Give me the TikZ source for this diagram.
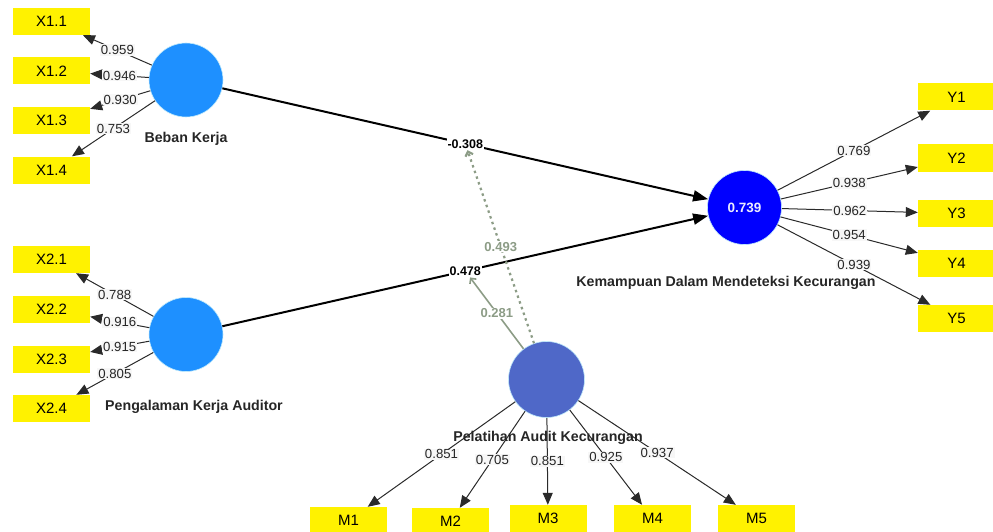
\documentclass[tikz,border=0pt]{standalone}
\usepackage{fontspec}
\setmainfont{Liberation Sans}
\usepackage{xcolor}
\usepackage{tikz}
\usetikzlibrary{positioning, arrows.meta}

\definecolor{lvblue}{HTML}{1E90FF}
\definecolor{dvblue}{HTML}{0000FF}
\definecolor{mvblue}{HTML}{4F68C8}
\definecolor{modgreen}{HTML}{8C9C86}
\definecolor{loadgray}{HTML}{2A2A2A}

\tikzset{
  latent/.style={circle, minimum size=74pt, inner sep=0pt, draw=cyan!25, line width=0.6pt},
  indicator/.style={fill=yellow, minimum width=77pt, minimum height=27pt, inner sep=0pt, font=\fontsize{15}{17}\selectfont},
  loading/.style={draw=loadgray, line width=1pt, -{Triangle[length=12pt,width=10pt]}},
  loadlabel/.style={fill=white!97!black, inner sep=1pt, text=black!85, font=\fontsize{13.2}{15}\selectfont},
  structpath/.style={draw=black, line width=2pt, -{Triangle[length=15pt,width=11pt]}},
  pathlabel/.style={fill=white, inner sep=1pt, font=\bfseries\fontsize{12.5}{14}\selectfont},
  modline/.style={draw=modgreen, line width=1.6pt, -{Straight Barb[length=4pt,width=8pt]}},
  modlabel/.style={fill=white, inner sep=1pt, text=modgreen, font=\bfseries\fontsize{13}{15}\selectfont},
  lvname/.style={text=black!85, font=\bfseries\fontsize{14.2}{17}\selectfont}
}

\begin{document}
\begin{tikzpicture}[x=1pt, y=-1pt]
\useasboundingbox (0,0) rectangle (993,532);

% latent variables
\node[latent, fill=lvblue] (bk) at (186,80) {};
\node[latent, fill=lvblue] (pka) at (186,334.5) {};
\node[latent, fill=dvblue, text=white!92!blue, font=\bfseries\fontsize{13.5}{15}\selectfont] (kdm) at (744.5,207.5) {0.739};
\node[latent, fill=mvblue, minimum size=76pt] (pak) at (546.5,379.5) {};

% indicators and loadings
\foreach \n/\y/\v in {1/21.5/0.959, 2/71/0.946, 3/120.5/0.930, 4/170/0.753} {
  \node[indicator] (xa\n) at (51.5,\y) {X1.\n};
  \draw[loading] (bk) -- node[loadlabel] {\v} (xa\n);
}
\foreach \n/\y/\v in {1/259.5/0.788, 2/309.5/0.916, 3/359/0.915, 4/408.5/0.805} {
  \node[indicator] (xb\n) at (51.5,\y) {X2.\n};
  \draw[loading] (pka) -- node[loadlabel] {\v} (xb\n);
}
\foreach \n/\y/\v in {1/97/0.769, 2/158/0.938, 3/213.5/0.962, 4/263/0.954, 5/318.5/0.939} {
  \node[indicator] (y\n) at (956.5,\y) {Y\n};
  \draw[loading] (kdm) -- node[loadlabel] {\v} (y\n);
}
\foreach \n/\x/\y/\v in {1/348.5/520.5/0.851, 2/450.5/521.5/0.705, 3/548/518.5/0.851, 4/652.5/518.5/0.925, 5/756.5/518.5/0.937} {
  \node[indicator] (m\n) at (\x,\y) {M\n};
  \draw[loading] (pak) -- node[loadlabel] {\v} (m\n);
}

% structural paths
\draw[structpath] (bk) -- node[pathlabel] (pbk) {-0.308} (kdm);
\draw[structpath] (pka) -- node[pathlabel] (ppka) {0.478} (kdm);

% moderating effects
\draw[modline, line width=2.2pt, dash pattern=on 2.5pt off 3.5pt] (pak) -- node[modlabel] {0.493} (pbk);
\draw[modline] (pak) -- node[modlabel] {0.281} (ppka);

% latent names
\node[lvname] (bkname) at (186,139) {Beban Kerja};
\node[lvname] (pkaname) at (194,407) {Pengalaman Kerja Auditor};
\node[lvname] (kdmname) at (726,283) {Kemampuan Dalam Mendeteksi Kecurangan};
\node[lvname] (pakname) at (548,438) {Pelatihan Audit Kecurangan};
\end{tikzpicture}
\end{document}
